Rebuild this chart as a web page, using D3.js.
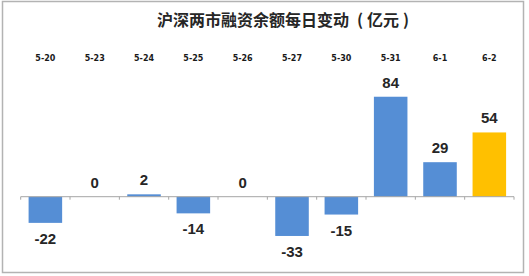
<!DOCTYPE html>
<html>
<head>
<meta charset="utf-8">
<script src="https://cdn.jsdelivr.net/npm/d3@7"></script>
<style>
  body { margin: 0; background: #fff; }
  svg { display: block; }
</style>
</head>
<body>
<div id="chart"></div>
<script>
// data
const dates = ["5-20", "5-23", "5-24", "5-25", "5-26", "5-27", "5-30", "5-31", "6-1", "6-2"];
const changes = [-22, 0, 2, -14, 0, -33, -15, 84, 29, 54];
const titleMain = "沪深两市融资余额每日变动";
const titleUnit = "亿元";

const width = 529;
const height = 276;

const svg = d3.select("#chart")
    .append("svg")
    .attr("width", width)
    .attr("height", height);

// frame
svg.append("rect")
    .attr("x", 2.5)
    .attr("y", 1.5)
    .attr("width", 521)
    .attr("height", 271)
    .attr("fill", "#fff")
    .attr("stroke", "#b3b3b3")
    .attr("stroke-width", 1.5);

// title, parens spaced out like the original
const title = svg.append("text")
    .attr("x", 157)
    .attr("y", 19)
    .attr("dominant-baseline", "central")
    .style("font-family", "'Noto Sans CJK SC', sans-serif")
    .style("font-weight", "bold")
    .style("font-size", "16px")
    .style("fill", "#262626");
title.append("tspan").text(titleMain);
title.append("tspan").attr("dx", 8).text("(");
title.append("tspan").attr("dx", 4).text(titleUnit);
title.append("tspan").attr("dx", 4).text(")");

const x = d3.scaleBand()
    .domain(dates)
    .range([20.7, 514])
    .paddingInner(0.32)
    .paddingOuter(0.16);

const y = d3.scaleLinear()
    .domain([-40, 90])
    .range([196.7 + 40 * 1.19, 196.7 - 90 * 1.19]);

// category labels across the top
svg.append("g")
    .selectAll("text")
    .data(dates)
    .join("text")
    .attr("x", d => x(d) + x.bandwidth() / 2)
    .attr("y", 61)
    .attr("text-anchor", "middle")
    .style("font-family", "'DejaVu Sans', sans-serif")
    .style("font-weight", "bold")
    .style("font-size", "8px")
    .style("fill", "#1a1a1a")
    .text(d => d);

// bars
svg.append("g")
    .selectAll("rect")
    .data(changes)
    .join("rect")
    .attr("x", (d, i) => x(dates[i]))
    .attr("y", d => y(Math.max(0, d)))
    .attr("width", x.bandwidth())
    .attr("height", d => Math.abs(y(d) - y(0)))
    .attr("fill", (d, i) => i === changes.length - 1 ? "#ffc000" : "#558ed5");

// zero axis with ticks at band edges
const axis = svg.append("g");
axis.append("line")
    .attr("x1", 20.7)
    .attr("x2", 514)
    .attr("y1", y(0))
    .attr("y2", y(0))
    .attr("stroke", "#a6a6a6")
    .attr("stroke-width", 1);

const step = x.step();
axis.selectAll(".tick")
    .data(d3.range(dates.length + 1))
    .join("line")
    .attr("class", "tick")
    .attr("x1", i => 20.7 + i * step)
    .attr("x2", i => 20.7 + i * step)
    .attr("y1", y(0))
    .attr("y2", y(0) + 3)
    .attr("stroke", "#a6a6a6")
    .attr("stroke-width", 1);

// value labels
svg.append("g")
    .selectAll("text")
    .data(changes)
    .join("text")
    .attr("x", (d, i) => x(dates[i]) + x.bandwidth() / 2)
    .attr("y", d => d < 0 ? y(d) + 21 : y(d) - 9)
    .attr("text-anchor", "middle")
    .style("font-family", "'Liberation Sans', Arial, sans-serif")
    .style("font-weight", "bold")
    .style("font-size", "15px")
    .style("fill", "#262626")
    .text(d => d);
</script>
</body>
</html>
